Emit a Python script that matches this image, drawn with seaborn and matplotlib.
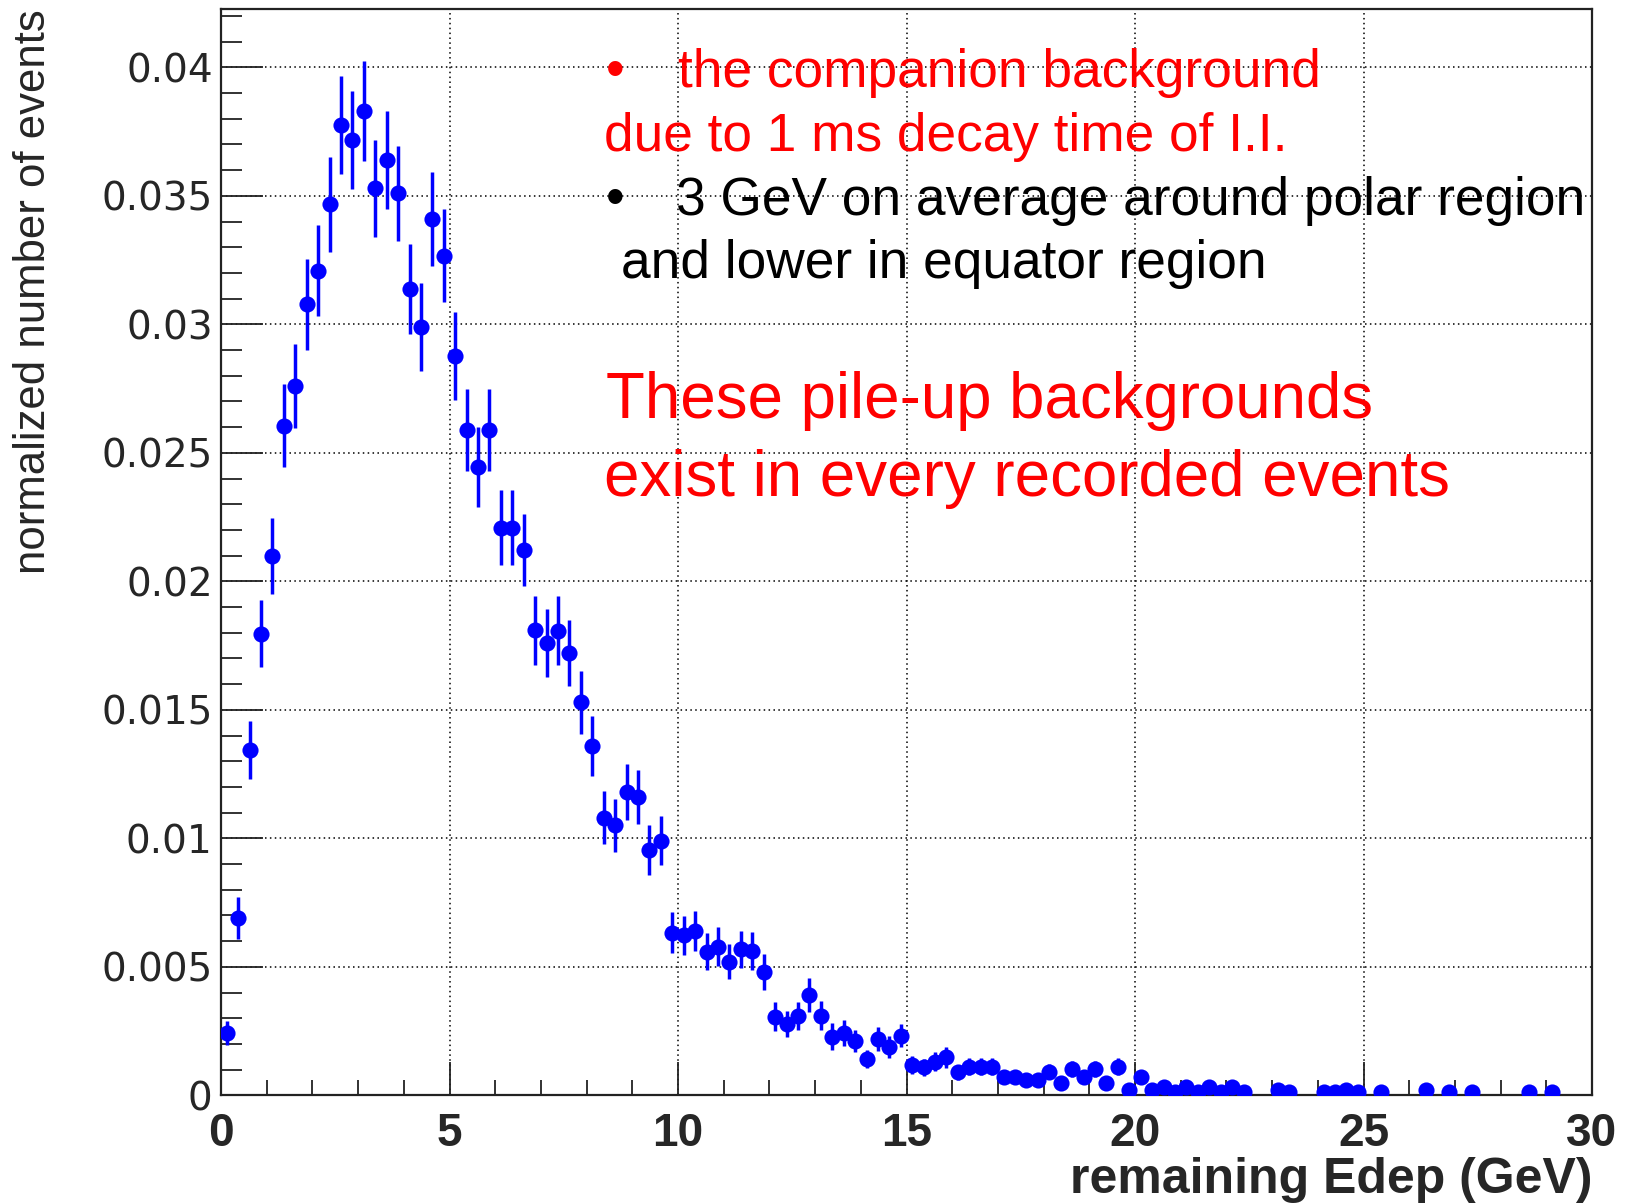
import numpy as np
import pandas as pd
import matplotlib
matplotlib.use("Agg")
import matplotlib.pyplot as plt
import seaborn as sns

# Histogram of remaining energy deposit: 120 bins of 0.25 GeV from 0 to 30 GeV
n_bins = 120
bin_width = 0.25
bin_centers = np.arange(n_bins) * bin_width + bin_width / 2

# normalized bin contents (units of 1e-3), empty bins are 0
counts_e3 = [
    2.43, 6.91, 13.45, 17.96, 20.99, 26.05, 27.60, 30.78, 32.09, 34.68,
    37.75, 37.17, 38.30, 35.29, 36.39, 35.10, 31.37, 29.91, 34.09, 32.67,
    28.78, 25.89, 24.46, 25.89, 22.09, 22.09, 21.22, 18.10, 17.61, 18.08,
    17.20, 15.29, 13.59, 10.80, 10.50, 11.81, 11.60, 9.54, 9.91, 6.33,
    6.23, 6.39, 5.59, 5.78, 5.20, 5.68, 5.61, 4.79, 3.06, 2.77,
    3.09, 3.90, 3.10, 2.28, 2.41, 2.12, 1.41, 2.19, 1.87, 2.32,
    1.18, 1.09, 1.31, 1.48, 0.89, 1.11, 1.11, 1.11, 0.70, 0.70,
    0.60, 0.60, 0.92, 0.47, 1.02, 0.70, 1.01, 0.47, 1.11, 0.20,
    0.70, 0.20, 0.31, 0.14, 0.31, 0.14, 0.31, 0.14, 0.31, 0.14,
    0.00, 0.00, 0.20, 0.14, 0.00, 0.00, 0.14, 0.14, 0.20, 0.14,
    0.00, 0.14, 0.00, 0.00, 0.00, 0.20, 0.00, 0.14, 0.00, 0.14,
    0.00, 0.00, 0.00, 0.00, 0.14, 0.00, 0.14, 0.00, 0.00, 0.00,
]

# statistical errors of the bin contents (units of 1e-3)
errors_e3 = [
    0.48, 0.82, 1.13, 1.30, 1.47, 1.61, 1.64, 1.76, 1.77, 1.85,
    1.91, 1.91, 1.95, 1.88, 1.91, 1.85, 1.76, 1.71, 1.82, 1.80,
    1.71, 1.58, 1.55, 1.58, 1.45, 1.45, 1.41, 1.34, 1.32, 1.34,
    1.28, 1.22, 1.17, 1.04, 1.02, 1.09, 1.06, 0.96, 0.95, 0.79,
    0.76, 0.78, 0.73, 0.76, 0.69, 0.71, 0.73, 0.69, 0.56, 0.52,
    0.55, 0.65, 0.56, 0.52, 0.51, 0.42, 0.36, 0.48, 0.42, 0.45,
    0.35, 0.33, 0.36, 0.40, 0.30, 0.33, 0.33, 0.33, 0.26, 0.26,
    0.24, 0.24, 0.30, 0.21, 0.31, 0.26, 0.31, 0.21, 0.33, 0.14,
    0.26, 0.14, 0.17, 0.12, 0.17, 0.12, 0.17, 0.12, 0.17, 0.12,
    0.00, 0.00, 0.14, 0.12, 0.00, 0.00, 0.12, 0.12, 0.14, 0.12,
    0.00, 0.12, 0.00, 0.00, 0.00, 0.14, 0.00, 0.12, 0.00, 0.12,
    0.00, 0.00, 0.00, 0.00, 0.12, 0.00, 0.12, 0.00, 0.00, 0.00,
]

x_ticks = [0, 5, 10, 15, 20, 25, 30]
y_ticks = [0, 0.005, 0.01, 0.015, 0.02, 0.025, 0.03, 0.035, 0.04]
y_tick_labels = ["0", "0.005", "0.01", "0.015", "0.02", "0.025", "0.03", "0.035", "0.04"]

df = pd.DataFrame({
    "edep": bin_centers,
    "value": np.array(counts_e3) * 1e-3,
    "err": np.array(errors_e3) * 1e-3,
})
df = df[df["value"] > 0]

sns.set_theme(style="white")
plt.rcParams["font.family"] = ["Liberation Sans", "DejaVu Sans"]

W, H = 1634, 1203
fig = plt.figure(figsize=(W / 100, H / 100), dpi=100)
x0, x1, y_top, y_bot = 221, 1592, 9.3, 1095.3
ax = fig.add_axes([x0 / W, 1 - y_bot / H, (x1 - x0) / W, (y_bot - y_top) / H])

blue = (0, 0, 1)
ax.errorbar(df["edep"], df["value"], yerr=df["err"], xerr=bin_width / 2,
            fmt="none", ecolor=blue, elinewidth=2.5, capsize=0, zorder=3)
sns.scatterplot(data=df, x="edep", y="value", ax=ax, color=blue, s=135,
                linewidth=0, marker="o", zorder=4, legend=False)

ax.set_xlim(0, 30)
ax.set_ylim(0, 0.04226)

ax.set_xticks(x_ticks)
ax.set_xticklabels([str(t) for t in x_ticks], fontsize=33, fontweight="bold")
ax.set_xticks(np.arange(0, 30.01, 1), minor=True)
ax.set_yticks(y_ticks)
ax.set_yticklabels(y_tick_labels, fontsize=28, family="DejaVu Sans")
ax.set_yticks(np.arange(0, 0.0425, 0.001), minor=True)

ax.tick_params(axis="x", which="major", direction="in", length=24, width=1.3,
               pad=12, color="#222222", top=False, bottom=True)
ax.tick_params(axis="x", which="minor", direction="in", length=11, width=1.3,
               color="#222222", top=False, bottom=True)
ax.tick_params(axis="y", which="major", direction="in", length=30, width=1.3,
               pad=6, color="#222222", left=True, right=False)
ax.tick_params(axis="y", which="minor", direction="in", length=15, width=1.3,
               color="#222222", left=True, right=False)

ax.grid(True, which="major", color="black", linestyle=(0, (1, 2.2)), linewidth=1.1)
for sp in ax.spines.values():
    sp.set_color("#222222")
    sp.set_linewidth(1.6)

ax.set_xlabel("remaining Edep (GeV)", fontsize=36, fontweight="bold", loc="right")
ax.xaxis.set_label_coords(1.0, -0.057)
ax.set_ylabel("normalized number of events", fontsize=31.5, loc="top")
ax.yaxis.set_label_coords(-0.1215, 1.0)


def ftext(px, py, s, **kw):
    fig.text(px / W, 1 - py / H, s, va="baseline", **kw)


red = (1, 0, 0)
fs_small = 38.3
fs_big = 45.8
ftext(615, 87.3, "\u2022", color=red, fontsize=fs_small, ha="center")
ftext(678, 87.3, "the companion background", color=red, fontsize=fs_small)
ftext(604, 150.7, "due to 1 ms decay time of I.I.", color=red, fontsize=fs_small)
ftext(615, 215, "\u2022", color="black", fontsize=fs_small, ha="center")
ftext(676, 215, "3 GeV on average around polar region", color="black", fontsize=fs_small)
ftext(621, 278, "and lower in equator region", color="black", fontsize=fs_small)
ftext(606, 418.3, "These pile-up backgrounds", color=red, fontsize=fs_big)
ftext(604.5, 495.7, "exist in every recorded events", color=red, fontsize=fs_big)

fig.savefig("out.png", dpi=100, facecolor="white")
